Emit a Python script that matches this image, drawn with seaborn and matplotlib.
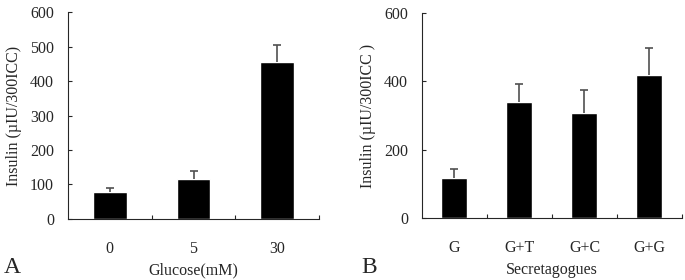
import numpy as np
import pandas as pd
import matplotlib
matplotlib.use("Agg")
import matplotlib.pyplot as plt
import seaborn as sns

# --- data ---
glucose_labels = ["0", "5", "30"]
glucose_means = [77, 115, 454]
glucose_err = [14, 23, 51]

secret_labels = ["G", "G+T", "G+C", "G+G"]
secret_means = [117, 339, 309, 420]
secret_err = [26, 54, 66, 78]

sns.set_style("ticks")
plt.rcParams['font.family'] = ['Liberation Serif', 'DejaVu Serif']

fig = plt.figure(figsize=(6.85, 2.8), dpi=100)
ax_a = fig.add_axes([0.0993, 0.218, 0.3664, 0.739])
ax_b = fig.add_axes([0.616, 0.221, 0.3796, 0.732])


def draw_panel(ax, labels, means, errs, yticks, xlabel, ylabel):
    df = pd.DataFrame({"cat": labels, "val": means})
    sns.barplot(data=df, x="cat", y="val", color="black", width=0.4,
                saturation=1, errorbar=None, ax=ax)
    # upper error bars only
    eb = ax.errorbar(np.arange(len(labels)), means,
                     yerr=[np.zeros(len(errs)), errs],
                     fmt="none", ecolor="#505050", elinewidth=1.2, capsize=3,
                     capthick=1.2, zorder=1)
    eb[1][0].set_visible(False)  # drop the lower cap
    n = len(labels)
    ax.set_xlim(-0.5, n - 0.5)
    ax.set_ylim(0, 600)
    ax.set_yticks(yticks)
    ax.set_xticks(np.arange(n))
    ax.set_xticklabels(labels)
    ax.set_xticks(np.arange(n) + 0.5, minor=True)
    ax.tick_params(axis="x", which="major", length=0, pad=16, labelsize=11.5)
    ax.tick_params(axis="x", which="minor", direction="in", length=3, width=0.8)
    ax.tick_params(axis="y", direction="in", length=3, width=0.8, pad=10,
                   labelsize=11.5)
    for s in ["top", "right"]:
        ax.spines[s].set_visible(False)
    for s in ["left", "bottom"]:
        ax.spines[s].set_linewidth(0.8)
    ax.set_xlabel(xlabel, fontsize=11.5, labelpad=4)
    ax.set_ylabel(ylabel, fontsize=11.5, labelpad=6)


draw_panel(ax_a, glucose_labels, glucose_means, glucose_err,
           [0, 100, 200, 300, 400, 500, 600], "Glucose(mM)",
           "Insulin (\u00b5IU/300ICC)")
draw_panel(ax_b, secret_labels, secret_means, secret_err,
           [0, 200, 400, 600], "Secretagogues",
           "Insulin (\u00b5IU/300ICC )")

fig.text(0.005, 0.025, "A", fontsize=17)
fig.text(0.528, 0.025, "B", fontsize=17)

fig.savefig("out.png", dpi=100)
